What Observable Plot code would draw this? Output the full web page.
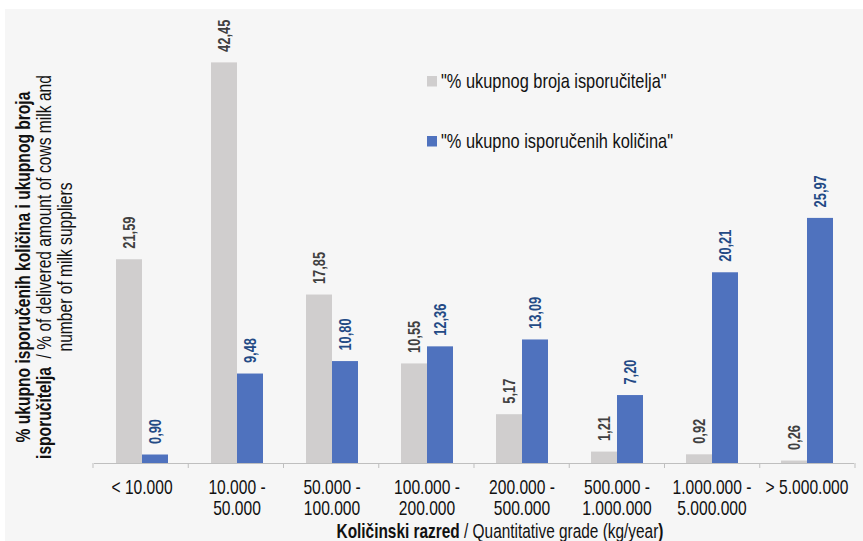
<!DOCTYPE html>
<html><head><meta charset="utf-8">
<script src="https://cdn.jsdelivr.net/npm/d3@7"></script>
<script src="https://cdn.jsdelivr.net/npm/@observablehq/plot@0.6"></script>
<style>
body{margin:0;background:#fff;}
#chart{position:relative;width:863px;height:541px;}
svg text{font-family:"Liberation Sans",Arial,sans-serif;}
</style></head><body><div id="chart"></div>
<script>
const categories = ["< 10.000", "10.000 -\n50.000", "50.000 -\n100.000", "100.000 -\n200.000", "200.000 -\n500.000", "500.000 -\n1.000.000", "1.000.000 -\n5.000.000", "> 5.000.000"];
const seriesNames = ['"% ukupnog broja isporučitelja"', '"% ukupno isporučenih količina"'];
const supplierShare = [21.59, 42.45, 17.85, 10.55, 5.17, 1.21, 0.92, 0.26];
const quantityShare = [0.90, 9.48, 10.80, 12.36, 13.09, 7.20, 20.21, 25.97];
const seriesColors = ["#d0cece", "#4f72be"];
const labelColors = ["#404040", "#234a85"];
const yMax = 48;

const rows = [];
categories.forEach((c, i) => {
  rows.push({cat: c, series: seriesNames[0], value: supplierShare[i]});
  rows.push({cat: c, series: seriesNames[1], value: quantityShare[i]});
});
const fmt = v => v.toFixed(2).replace(".", ",");
const font = '"Liberation Sans",Arial,sans-serif';
const NARROW = 0.78;

const chart = Plot.plot({
  width: 863, height: 541,
  marginLeft: 93, marginRight: 8, marginTop: 10, marginBottom: 78,
  style: {fontFamily: font, background: "transparent", overflow: "visible"},
  fx: {domain: categories, padding: 0, axis: null},
  x: {domain: seriesNames, paddingInner: 0, paddingOuter: 0.764, axis: null},
  y: {domain: [0, yMax], axis: null},
  color: {domain: seriesNames, range: seriesColors},
  marks: [
    Plot.barY(rows, {fx: "cat", x: "series", y: "value", fill: "series"}),
    Plot.ruleY([0], {stroke: "#bfbfbf", strokeWidth: 1}),
    ...seriesNames.map((s, k) => Plot.text(rows.filter(d => d.series === s), {
      fx: "cat", x: "series", y: "value", text: d => fmt(d.value),
      rotate: -90, textAnchor: "start", dy: -11,
      fill: labelColors[k], fontWeight: "bold", fontSize: 16.5
    })),
    Plot.text(categories, {fx: d => d, y: () => 0, text: d => d, dy: 15, lineAnchor: "top", lineHeight: 1.07, fontSize: 20, fill: "#111"})
  ]
});

// condense text horizontally (narrow face), keeping its anchor point
function condense(el, s) {
  const xa = el.getAttribute("x");
  const x = xa == null ? 0 : parseFloat(xa);
  if (x) el.setAttribute("x", x / s);
  const t = el.getAttribute("transform") || "";
  el.setAttribute("transform", `${t} scale(${s},1)`);
}

const svg = d3.select(chart);
svg.selectAll("text").each(function() { condense(this, NARROW); });

// background panel
svg.insert("rect", ":first-child").attr("x", 5).attr("y", 9).attr("width", 858).attr("height", 532).attr("fill", "#f6f6f6");

// tick marks at category boundaries
const fxs = chart.scale("fx");
const ys = chart.scale("y");
const y0 = ys.range[0];
const step = (fxs.range[1] - fxs.range[0]) / categories.length;
for (let i = 0; i <= categories.length; i++) {
  const x = fxs.range[0] + i * step;
  svg.append("line").attr("x1", x).attr("x2", x).attr("y1", y0).attr("y2", y0 + 5).attr("stroke", "#bfbfbf");
}

// legend
seriesNames.forEach((s, k) => {
  const ly = 81 + k * 60;
  svg.append("rect").attr("x", 427).attr("y", ly - 5).attr("width", 10).attr("height", 10.5).attr("fill", seriesColors[k]);
  const t = svg.append("text").attr("x", 441).attr("y", ly + 7).attr("text-anchor", "start").attr("font-size", 20).attr("fill", "#111").text(s);
  condense(t.node(), 0.82);
});

// x title
const xt = svg.append("text").attr("x", 500).attr("y", 538).attr("text-anchor", "middle").attr("font-size", 19.5).attr("fill", "#111");
xt.append("tspan").attr("font-weight", "bold").text("Količinski razred");
xt.append("tspan").text(" / Quantitative grade (kg/year");
xt.append("tspan").attr("font-weight", "bold").text(")");
condense(xt.node(), 0.79);

// y title
const yt = svg.append("g").attr("transform", "translate(0,267) rotate(-90)");
const l1 = yt.append("text").attr("x", 0).attr("y", 30).attr("text-anchor", "middle").attr("font-size", 20).attr("fill", "#111");
l1.append("tspan").attr("font-weight", "bold").text("% ukupno isporučenih količina i ukupnog broja");
const l2 = yt.append("text").attr("x", 0).attr("y", 51).attr("text-anchor", "middle").attr("font-size", 20).attr("fill", "#111");
l2.append("tspan").attr("font-weight", "bold").text("isporučitelja");
l2.append("tspan").text("  / % of delivered amount of cows milk and");
const l3 = yt.append("text").attr("x", 0).attr("y", 72).attr("text-anchor", "middle").attr("font-size", 20).attr("fill", "#111");
l3.append("tspan").text("number of milk suppliers");
[l1, l2, l3].forEach(l => condense(l.node(), NARROW));

document.getElementById("chart").appendChild(chart);
</script>
</body></html>
